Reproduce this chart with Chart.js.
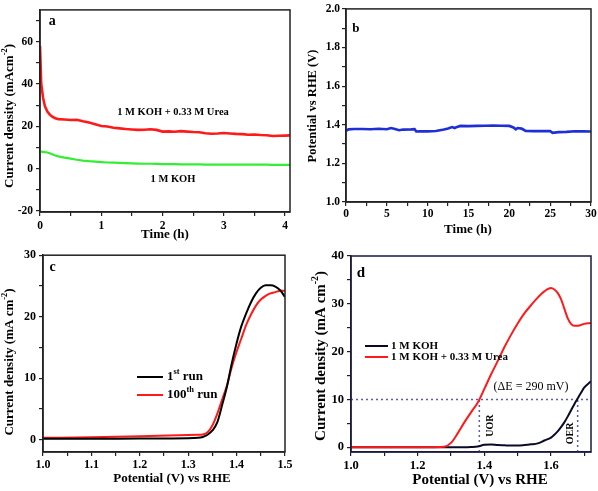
<!DOCTYPE html>
<html><head><meta charset="utf-8">
<script src="https://cdn.jsdelivr.net/npm/chart.js@4.4.0/dist/chart.umd.min.js"></script>
<style>
html,body{margin:0;padding:0;background:#fff;}
#wrap{position:relative;width:598px;height:491px;overflow:hidden;background:#fff;}
canvas{position:absolute;}
</style></head><body>
<div id="wrap">
<canvas id="ca" width="299" height="245" style="left:0;top:0"></canvas>
<canvas id="cb" width="299" height="245" style="left:299px;top:0"></canvas>
<canvas id="cc" width="299" height="246" style="left:0;top:245px"></canvas>
<canvas id="cd" width="299" height="246" style="left:299px;top:245px"></canvas>
</div>
<script>
// ---------- DATA ----------
// Panel a: chronoamperometry
const aTime = [0,0.02,0.05,0.08,0.12,0.16,0.2,0.25,0.3,0.4,0.5,0.6,0.7,0.8,0.9,1.0,1.1,1.2,1.3,1.4,1.5,1.6,1.7,1.8,1.9,2.0,2.1,2.2,2.3,2.4,2.5,2.6,2.7,2.8,2.9,3.0,3.1,3.2,3.3,3.4,3.5,3.6,3.7,3.8,3.9,4.0,4.08];
const aUrea = [58,40,33.5,29.5,27,25.5,24.5,23.8,23.4,23.2,23,23.1,22.4,21.8,21,20.1,19.9,19.3,19,18.7,18.5,18.3,18.4,18.6,18.3,17.5,17.6,17.4,17.7,17.5,17.3,17.2,16.7,16.5,16.6,16.8,16.6,16.4,16.3,16,16.1,15.9,15.8,15.4,15.5,15.6,15.7];
const aKOH  = [8,8,7.9,7.8,7.6,7.3,6.8,6.2,5.8,5.2,4.7,4.2,3.8,3.5,3.3,3.1,2.9,2.8,2.7,2.6,2.5,2.4,2.3,2.3,2.2,2.1,2.1,2.1,2,2,2,2,1.9,1.9,1.9,1.9,1.9,1.9,1.9,1.9,1.9,1.9,1.9,1.8,1.8,1.8,1.8];
// Panel b: chronopotentiometry
const bTime = [0,0.3,1,2,3,4,5,5.5,6,6.5,7,8,8.4,8.6,9,10,11,12,12.5,13,13.3,13.6,14,15,16,17,18,19,20,20.5,20.8,21,21.5,22,23,24,25,25.3,26,27,28,29,30];
const bPot  = [1.368,1.376,1.378,1.378,1.377,1.379,1.377,1.383,1.378,1.372,1.375,1.376,1.377,1.365,1.366,1.366,1.368,1.375,1.381,1.388,1.383,1.389,1.394,1.393,1.394,1.395,1.396,1.395,1.394,1.386,1.376,1.383,1.38,1.368,1.367,1.367,1.367,1.358,1.362,1.363,1.366,1.366,1.365];
// Panel c: LSV stability
const cV    = [1.0,1.1,1.2,1.3,1.32,1.33,1.34,1.35,1.36,1.37,1.38,1.39,1.40,1.41,1.42,1.43,1.44,1.45,1.46,1.47,1.48,1.49,1.5];
const cRun1 = [0.15,0.16,0.18,0.22,0.3,0.45,0.8,1.5,2.8,5.6,8.6,12.4,15.7,18.5,20.6,22.4,23.8,24.7,25.1,25.1,24.9,24.3,23.2];
const cRun100=[0.3,0.4,0.55,0.75,0.8,0.85,1.2,2.3,4.2,6.5,8.8,11.8,14.3,16.5,18.7,20.4,21.8,22.8,23.4,23.8,24.0,24.2,24.2];
// Panel d: LSV KOH vs KOH+urea
const dV    = [1.0,1.05,1.1,1.15,1.2,1.25,1.28,1.3,1.32,1.34,1.36,1.38,1.4,1.42,1.44,1.46,1.48,1.5,1.52,1.54,1.56,1.58,1.6,1.61,1.62,1.63,1.64,1.65,1.66,1.67,1.68,1.69,1.7,1.72];
const dUrea = [0,0,0,0,0,0,0.1,0.9,2.9,5.2,7.3,9.3,12.2,15.2,18.0,20.9,23.5,25.9,28.0,29.7,31.3,32.6,33.3,33.0,32.3,31.0,29.0,27.0,25.8,25.4,25.4,25.6,25.8,26.0];
const dKOH  = [0,0,0,0,0,0,0,0,0,0,0.05,0.15,0.5,0.55,0.45,0.4,0.35,0.35,0.45,0.6,0.8,1.4,2.0,2.6,3.3,4.2,5.2,6.4,7.7,9.0,10.2,11.4,12.5,13.8];
const dRefCurrent = 10;      // mA cm-2 reference level
const dUOR = 1.385, dOER = 1.68; // potentials at 10 mA cm-2
const dLegend = ['1 M KOH','1 M KOH + 0.33 M Urea'];

// ---------- HELPERS ----------
const SERIF = "'Liberation Serif','Times New Roman',serif";
const isMult = (v,s)=>{const r=v/s;return Math.abs(r-Math.round(r))<1e-6;};
const pts = (xs,ys)=>ys.map((y,i)=>({x:xs[i],y}));

function axis(o){
  const col = o.color||'#222';
  return {
    type:'linear', position:o.pos, min:o.min, max:o.max,
    afterFit(s){ if(o.pos==='left') s.width=o.size; else s.height=o.size; },
    afterBuildTicks(s){
      const arr=[]; const k0=Math.ceil(s.min/o.minor-1e-9);
      for(let k=k0; k*o.minor<=s.max+1e-9; k++) arr.push({value:+(k*o.minor).toFixed(6)});
      s.ticks=arr;
    },
    ticks:{ stepSize:o.minor, autoSkip:false, maxRotation:0, minRotation:0, padding:o.pad, color:'#000',
      font:{family:SERIF,size:o.fs,weight:'bold'},
      callback:(v)=> isMult(v,o.major)? o.fmt(v):'' },
    grid:{ drawOnChartArea:false, drawTicks:true, tickLength:4, color:col, lineWidth:1.2 },
    border:{ display:true, color:col, width:1.5 },
    title:{display:false}
  };
}

function drawRich(ctx, parts, x, y, size, weight, align, rot, color){
  ctx.save(); ctx.translate(x,y); if(rot) ctx.rotate(rot);
  ctx.fillStyle=color||'#000'; ctx.textBaseline='middle'; ctx.textAlign='left';
  const f=s=>`${weight} ${s}px ${SERIF}`;
  let w=0; const ws=[];
  parts.forEach(p=>{ctx.font=f(p.sup?size*0.65:size); const m=ctx.measureText(p.t).width; ws.push(m); w+=m;});
  let cx = align==='left'?0:(align==='right'?-w:-w/2);
  parts.forEach((p,i)=>{ctx.font=f(p.sup?size*0.65:size); ctx.fillText(p.t,cx,p.sup?-size*0.38:0); cx+=ws[i];});
  ctx.restore();
}

const decor = {
  id:'decor',
  afterDatasetsDraw(c, args, opts){
    const ctx=c.ctx, a=c.chartArea;
    ctx.save();
    ctx.strokeStyle=opts.frame||'#222'; ctx.lineWidth=1.5;
    ctx.strokeRect(a.left,a.top,a.right-a.left,a.bottom-a.top);
    (opts.lines||[]).forEach(l=>{
      ctx.strokeStyle=l.color; ctx.lineWidth=l.w; ctx.beginPath();
      ctx.moveTo(l.x1,l.y); ctx.lineTo(l.x2,l.y); ctx.stroke();
    });
    (opts.texts||[]).forEach(t=>{
      let x=t.px, y=t.py;
      if(t.dx!==undefined){ x=c.scales.x.getPixelForValue(t.dx); y=c.scales.y.getPixelForValue(t.dy); }
      drawRich(ctx, t.parts, x, y, t.size, t.weight||'bold', t.align||'center', t.rot||0, t.color);
    });
    ctx.restore();
  }
};

function base(datasets, scales, padding, decorOpts){
  return {
    type:'line',
    data:{datasets},
    options:{
      responsive:false, animation:false, events:[],
      layout:{padding},
      scales,
      plugins:{legend:{display:false}, tooltip:{enabled:false}, decor:decorOpts}
    },
    plugins:[decor]
  };
}
const line = (data,color,w,extra)=>Object.assign({data,borderColor:color,borderWidth:w,pointRadius:0,fill:false,tension:0},extra||{});
const R=-Math.PI/2;

// ---------- PANEL A ----------
new Chart(document.getElementById('ca'), base(
  [ line(pts(aTime,aUrea),'#ff1a1a',2.6), line(pts(aTime,aKOH),'#33ee33',2.2) ],
  { x: axis({pos:'bottom',min:0,max:4.08,minor:0.5,major:1,size:33,pad:3,fs:11.5,fmt:v=>v.toFixed(0)}),
    y: axis({pos:'left',min:-20.5,max:75,minor:10,major:20,size:40,pad:3,fs:11.5,fmt:v=>v.toFixed(0)}) },
  {top:5,right:9,left:0,bottom:0},
  { texts:[
    {px:10,py:116,rot:R,size:13,parts:[{t:'Current density (mAcm'},{t:'-2',sup:true},{t:')'}]},
    {px:165,py:235,size:13,parts:[{t:'Time (h)'}]},
    {dx:0.2,dy:69.5,size:14,parts:[{t:'a'}]},
    {dx:2.17,dy:26.7,size:10.5,parts:[{t:'1 M KOH + 0.33 M Urea'}]},
    {dx:2.17,dy:-5.1,size:10.5,parts:[{t:'1 M KOH'}]}
  ]}
));

// ---------- PANEL B ----------
new Chart(document.getElementById('cb'), base(
  [ line(pts(bTime,bPot),'#1f2fd6',2.6) ],
  { x: axis({pos:'bottom',min:0,max:30,minor:2.5,major:5,size:43,pad:1,fs:11.5,fmt:v=>v.toFixed(0)}),
    y: axis({pos:'left',min:1.0,max:2.0,minor:0.1,major:0.2,size:47,pad:2,fs:11.5,fmt:v=>v.toFixed(1)}) },
  {top:7,right:7,left:0,bottom:0},
  { texts:[
    {px:14,py:106,rot:R,size:12.5,parts:[{t:'Potential vs RHE (V)'}]},
    {px:169,py:230,size:13,parts:[{t:'Time (h)'}]},
    {dx:1.2,dy:1.897,size:13,parts:[{t:'b'}]}
  ]}
));

// ---------- PANEL C ----------
new Chart(document.getElementById('cc'), base(
  [ line(pts(cV,cRun1),'#000000',2,{cubicInterpolationMode:'monotone'}),
    line(pts(cV,cRun100),'#ff1a1a',2,{cubicInterpolationMode:'monotone'}) ],
  { x: axis({pos:'bottom',min:1.0,max:1.5,minor:0.05,major:0.1,size:39,pad:2,fs:12,fmt:v=>v.toFixed(1)}),
    y: axis({pos:'left',min:-2,max:30,minor:5,major:10,size:43,pad:3,fs:12,fmt:v=>v.toFixed(0)}) },
  {top:10,right:14,left:0,bottom:0},
  { lines:[ {x1:137,x2:163,y:132,color:'#000',w:2}, {x1:137,x2:163,y:150,color:'#ff1a1a',w:2} ],
    texts:[
    {px:10,py:117,rot:R,size:13,parts:[{t:'Current density (mA cm'},{t:'-2',sup:true},{t:')'}]},
    {px:172,py:234,size:13,parts:[{t:'Potential (V) vs RHE'}]},
    {dx:1.02,dy:28,size:14,parts:[{t:'c'}]},
    {px:167,py:132,size:13,align:'left',parts:[{t:'1'},{t:'st',sup:true},{t:' run'}]},
    {px:167,py:150,size:13,align:'left',parts:[{t:'100'},{t:'th',sup:true},{t:' run'}]}
  ]}
));

// ---------- PANEL D ----------
const guide = (d)=>line(d,'#5a5ac0',1.5,{borderDash:[2,3]});
new Chart(document.getElementById('cd'), base(
  [ line(pts(dV,dUrea),'#ff1a1a',2,{cubicInterpolationMode:'monotone'}),
    line(pts(dV,dKOH),'#0a0a28',2,{cubicInterpolationMode:'monotone'}),
    guide([{x:1.0,y:dRefCurrent},{x:1.72,y:dRefCurrent}]),
    guide([{x:dUOR,y:-1},{x:dUOR,y:dRefCurrent}]),
    guide([{x:dOER,y:-1},{x:dOER,y:dRefCurrent}]) ],
  { x: axis({pos:'bottom',min:1.0,max:1.72,minor:0.1,major:0.2,size:39,pad:2,fs:12.5,color:'#1a1a3a',fmt:v=>v.toFixed(1)}),
    y: axis({pos:'left',min:-1,max:40,minor:5,major:10,size:52,pad:3,fs:12.5,color:'#1a1a3a',fmt:v=>v.toFixed(0)}) },
  {top:11,right:7,left:0,bottom:0},
  { frame:'#1a1a3a',
    lines:[ {x1:66,x2:89,y:101,color:'#0a0a28',w:2}, {x1:66,x2:89,y:112,color:'#ff1a1a',w:2} ],
    texts:[
    {px:22,py:111,rot:R,size:15,parts:[{t:'Current density (mA cm'},{t:'-2',sup:true},{t:')'}]},
    {px:181,py:235,size:15,parts:[{t:'Potential (V) vs RHE'}]},
    {dx:1.03,dy:36.4,size:15,parts:[{t:'d'}]},
    {dx:1.54,dy:12.6,size:12,weight:'normal',parts:[{t:'(\u0394E = 290 mV)'}]},
    {dx:1.419,dy:4.5,size:10,rot:R,parts:[{t:'UOR'}]},
    {dx:1.659,dy:2.9,size:10,rot:R,parts:[{t:'OER'}]},
    {px:92,py:101,size:11,align:'left',parts:[{t:dLegend[0]}]},
    {px:92,py:112,size:11,align:'left',parts:[{t:dLegend[1]}]}
  ]}
));
</script>
</body></html>
